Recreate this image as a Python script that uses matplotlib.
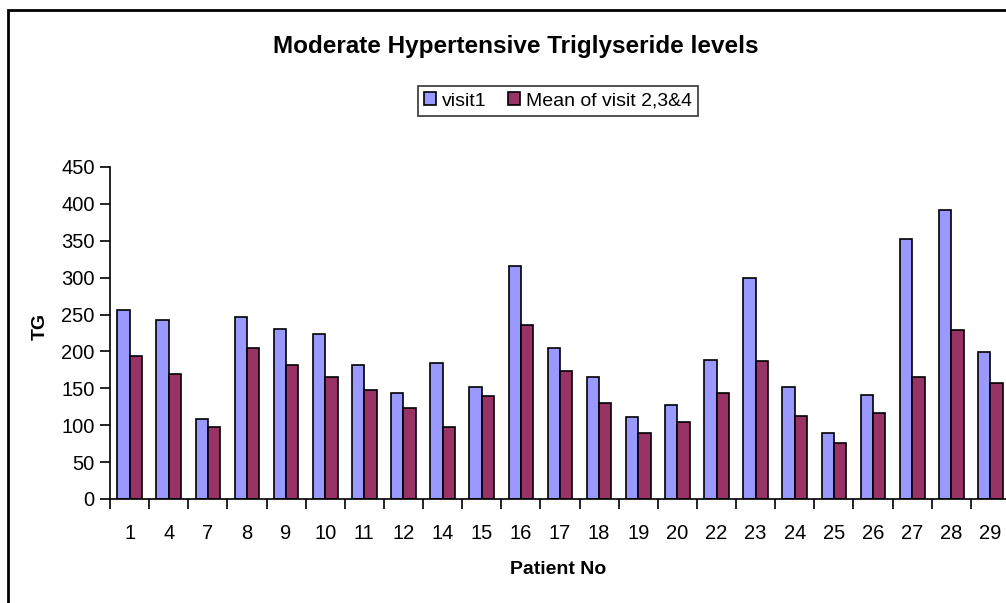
import numpy as np
import matplotlib
matplotlib.use("Agg")
import matplotlib.pyplot as plt
from matplotlib.patches import Rectangle

# ── data ────────────────────────────────────────────────────────────────────────
patients = ["1", "4", "7", "8", "9", "10", "11", "12", "14", "15", "16", "17",
            "18", "19", "20", "22", "23", "24", "25", "26", "27", "28", "29"]
visit1 = [256, 242, 108, 247, 230, 224, 182, 143, 185, 152, 316, 205,
          166, 111, 127, 189, 300, 152, 90, 141, 353, 392, 199]
mean_234 = [194, 169, 97, 205, 182, 166, 148, 123, 97, 139, 236, 173,
            130, 90, 104, 143, 187, 113, 76, 117, 166, 229, 157]

C_VISIT = "#9999FF"
C_MEAN = "#993366"

plt.rcParams["font.family"] = ["Liberation Sans", "DejaVu Sans"]

W, H = 1006, 603
fig = plt.figure(figsize=(W / 100, H / 100), dpi=100)

# axes in pixel terms: left 110, right 1010, y0 at 499, y450 at 167
ax = fig.add_axes([110 / W, 1 - 499 / H, 900 / W, (499 - 167) / H])

x = np.arange(len(patients))
bw = 0.315
ax.bar(x - bw / 2, visit1, bw, color=C_VISIT, edgecolor="black",
       linewidth=1.2, label="visit1")
ax.bar(x + bw / 2, mean_234, bw, color=C_MEAN, edgecolor="black",
       linewidth=1.2, label="Mean of visit 2,3&4")

ax.set_xlim(-0.5, len(patients) - 0.5)
ax.set_ylim(0, 450)
ax.set_yticks(range(0, 451, 50))
ax.set_xticks(x)
ax.set_xticklabels(patients)
ax.set_xticks(np.arange(-0.5, len(patients), 1), minor=True)
ax.tick_params(axis="x", which="major", length=0, labelsize=14.5, pad=18)
ax.tick_params(axis="x", which="minor", length=7, width=1.2, direction="out")
ax.tick_params(axis="y", length=7, width=1.2, labelsize=14.5, pad=4)

for s in ["top", "right"]:
    ax.spines[s].set_visible(False)
for s in ["left", "bottom"]:
    ax.spines[s].set_linewidth(1.2)

fig.text(40 / W, 1 - 326 / H, "TG", rotation=90, ha="center", va="center",
         fontsize=14, fontweight="bold")
fig.text(558 / W, 1 - 570 / H, "Patient No", ha="center", va="center",
         fontsize=14, fontweight="bold")
fig.text(516 / W, 1 - 47 / H, "Moderate Hypertensive Triglyseride levels",
         ha="center", va="center", fontsize=17.5, fontweight="bold")

leg = fig.legend(loc="center", bbox_to_anchor=(558 / W, 1 - 101 / H), ncol=2,
                 fontsize=14, frameon=True, fancybox=False, handlelength=0.6,
                 handleheight=0.6, handletextpad=0.3, columnspacing=1.1,
                 borderpad=0.35, borderaxespad=0)
leg.get_frame().set_edgecolor("black")
leg.get_frame().set_linewidth(1.2)

# outer chart border (clipped at right and bottom in the original)
fig.patches.append(Rectangle((8 / W, -0.05), 1.1, 1 - 10 / H + 0.05,
                             transform=fig.transFigure, fill=False,
                             edgecolor="black", linewidth=2))

fig.savefig("out.png", dpi=100)
